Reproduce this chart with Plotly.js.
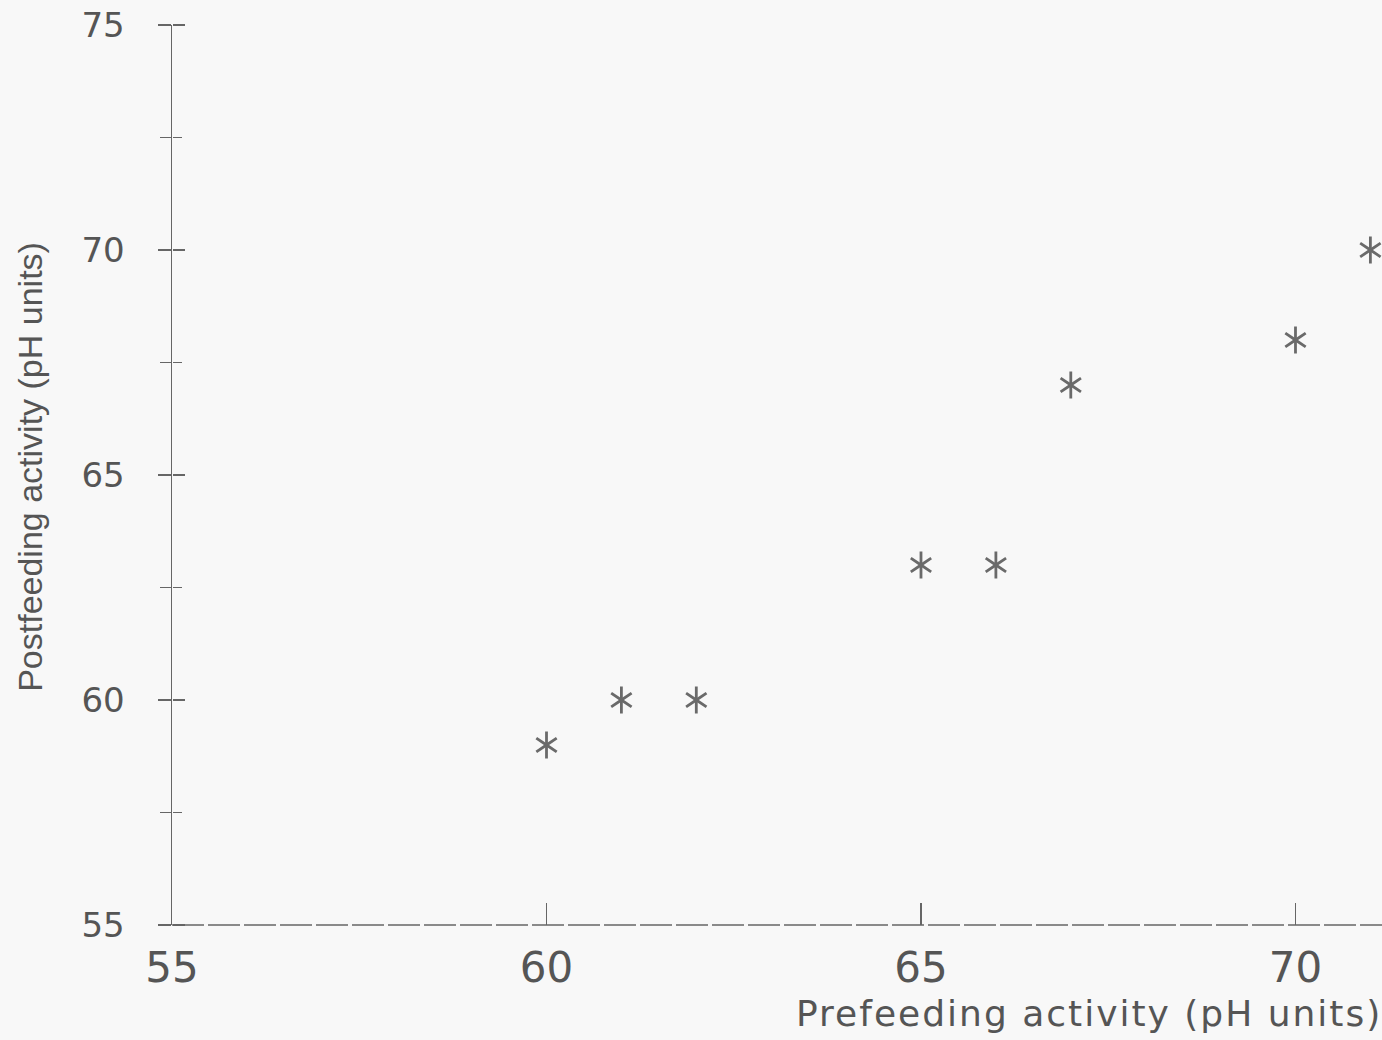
<!DOCTYPE html>
<html>
<head>
<meta charset="utf-8">
<script src="https://cdn.plot.ly/plotly-3.0.1.min.js"></script>
<style>
html, body { margin: 0; padding: 0; background: #f8f8f8; }
#chart { width: 1382px; height: 1040px; }
.xtitle-ann text { letter-spacing: 2px; }
</style>
</head>
<body>
<div id="chart"></div>
<script>
// Data
const prefeeding = [60, 61, 62, 65, 66, 67, 70, 71];
const postfeeding = [59, 60, 60, 63, 63, 67, 68, 70];
const xTickVals = [55, 60, 65, 70];
const yTickVals = [55, 60, 65, 70, 75];
const xTitle = 'Prefeeding activity (pH units)';
const yTitle = 'Postfeeding activity (pH units)';

const markColor = '#6a6a6a';
const axisColor = '#666666';
const textColor = '#555555';

const starUp = {
  x: prefeeding, y: postfeeding, type: 'scatter', mode: 'markers',
  cliponaxis: false, showlegend: false, hoverinfo: 'x+y',
  marker: { symbol: 'y-up-open', size: 17, color: markColor, line: { width: 2.8, color: markColor } }
};
const starDown = {
  x: prefeeding, y: postfeeding, type: 'scatter', mode: 'markers',
  cliponaxis: false, showlegend: false, hoverinfo: 'skip',
  marker: { symbol: 'y-down-open', size: 17, color: markColor, line: { width: 2.8, color: markColor } }
};
// invisible trace carrying the second y axis (ticks pointing into the plot)
const yInner = {
  x: prefeeding, y: postfeeding, type: 'scatter', mode: 'markers', yaxis: 'y2',
  showlegend: false, hoverinfo: 'skip', marker: { opacity: 0 }
};

const layout = {
  width: 1382, height: 1040,
  margin: { l: 172, r: 0, t: 25, b: 115 },
  paper_bgcolor: '#f8f8f8', plot_bgcolor: '#f8f8f8',
  font: { family: 'DejaVu Sans, sans-serif', color: textColor },
  showlegend: false,
  xaxis: {
    domain: [0, 1],
    range: [55, 71.155], showgrid: false, zeroline: false, showline: false,
    tickmode: 'array', tickvals: xTickVals, ticktext: xTickVals.map(String),
    ticks: 'inside', ticklen: 22, tickwidth: 1.5, tickcolor: axisColor,
    ticklabelstandoff: 14,
    tickfont: { family: 'DejaVu Sans, sans-serif', size: 42, color: textColor }
  },
  yaxis: {
    range: [55, 75], showgrid: false, zeroline: false,
    showline: true, linecolor: axisColor, linewidth: 1.5,
    tickmode: 'array', tickvals: yTickVals, ticktext: yTickVals.map(String),
    ticks: 'outside', ticklen: 13, tickwidth: 1.5, tickcolor: axisColor,
    ticklabelstandoff: 26,
    tickfont: { family: 'DejaVu Sans, sans-serif', size: 34, color: textColor },
    minor: { dtick: 2.5, tick0: 55, ticks: 'outside', ticklen: 11, tickwidth: 1.3, tickcolor: axisColor, showgrid: false }
  },
  yaxis2: {
    overlaying: 'y', anchor: 'free', position: 0, side: 'right', range: [55, 75],
    showgrid: false, zeroline: false, showline: false, showticklabels: false,
    tickmode: 'array', tickvals: yTickVals,
    ticks: 'outside', ticklen: 12, tickwidth: 1.5, tickcolor: axisColor,
    minor: { dtick: 2.5, tick0: 55, ticks: 'outside', ticklen: 9, tickwidth: 1.3, tickcolor: axisColor, showgrid: false }
  },
  shapes: [{
    type: 'line', xref: 'paper', yref: 'paper', x0: 0, x1: 1, y0: 0, y1: 0,
    line: { color: axisColor, width: 1.6, dash: '32px,4px' }
  }],
  annotations: [
    {
      text: xTitle, xref: 'paper', yref: 'paper', x: 0.7575, y: -0.073,
      xanchor: 'center', yanchor: 'top', showarrow: false,
      font: { family: 'DejaVu Sans, sans-serif', size: 36, color: textColor }
    },
    {
      text: yTitle, xref: 'paper', yref: 'paper', x: -0.1174, y: 0.509,
      xanchor: 'center', yanchor: 'middle', textangle: -90, showarrow: false,
      font: { family: 'Liberation Sans, Arial, sans-serif', size: 34, color: textColor }
    }
  ]
};

Plotly.newPlot('chart', [yInner, starUp, starDown], layout, { displayModeBar: false, staticPlot: true }).then(function () {
  const anns = document.querySelectorAll('.annotation');
  if (anns.length) anns[0].classList.add('xtitle-ann');
});
</script>
</body>
</html>
